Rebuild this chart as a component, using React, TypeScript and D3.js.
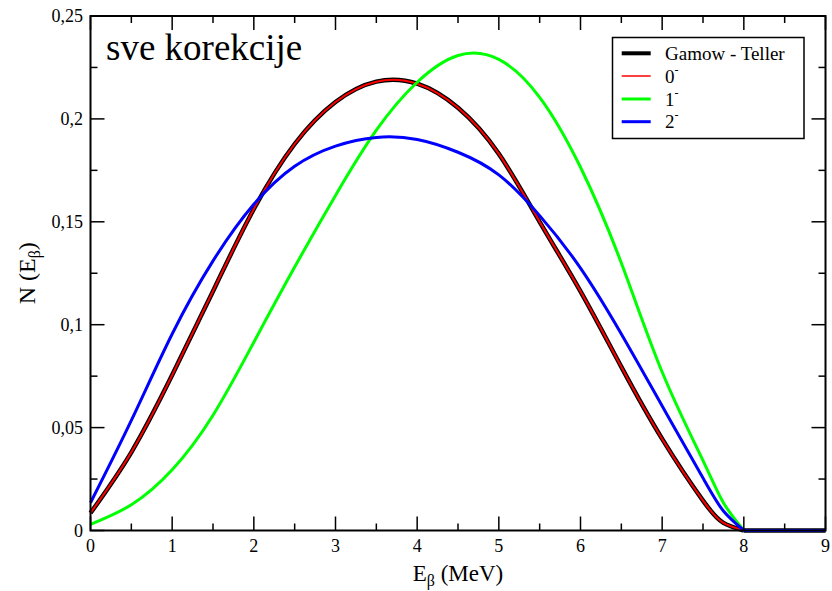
import React from "react";
import * as d3 from "d3";

// Beta spectrum N(E) for each transition type, read at these energies (MeV)
const energy = [0, 0.5, 1, 1.5, 2, 2.5, 3, 3.5, 4, 4.5, 5, 5.5, 6, 6.5, 7, 7.5, 7.75, 8, 8.5, 9];
const gamowTeller = [0.0085, 0.038, 0.0755, 0.1163, 0.1562, 0.1878, 0.2082, 0.2181, 0.2171, 0.2054, 0.183, 0.15, 0.1162, 0.0795, 0.0445, 0.0145, 0.0037, 0, 0, 0];
const firstForbidden0 = [0.0085, 0.038, 0.0755, 0.1163, 0.1562, 0.1878, 0.2082, 0.2181, 0.2171, 0.2054, 0.183, 0.15, 0.1162, 0.0795, 0.0445, 0.0145, 0.0037, 0, 0, 0];
const firstForbidden1 = [0.003, 0.0125, 0.0295, 0.056, 0.0915, 0.128, 0.1628, 0.1945, 0.2178, 0.2308, 0.2289, 0.2105, 0.1765, 0.13, 0.077, 0.034, 0.0135, 0, 0, 0];
const firstForbidden2 = [0.0135, 0.0535, 0.0955, 0.131, 0.1585, 0.177, 0.1868, 0.191, 0.19, 0.1838, 0.1728, 0.153, 0.1275, 0.0955, 0.0605, 0.0255, 0.0095, 0, 0, 0];

const endpoint = 8;

const xTicks = [0, 1, 2, 3, 4, 5, 6, 7, 8, 9];
const xMinorTicks = [0.5, 1.5, 2.5, 3.5, 4.5, 5.5, 6.5, 7.5, 8.5];
const yTicks = [0, 0.05, 0.1, 0.15, 0.2, 0.25];
const yTickLabels = ["0", "0,05", "0,1", "0,15", "0,2", "0,25"];
const yMinorTicks = [0.025, 0.075, 0.125, 0.175, 0.225];

const W = 832;
const H = 591;
const left = 90.5;
const right = 825.5;
const top = 16;
const bottom = 530.5;
const FONT = "'Liberation Serif', 'Times New Roman', Times, 'DejaVu Serif', serif";

export default function App() {
  const x = d3.scaleLinear().domain([0, 9]).range([left, right]);
  const y = d3.scaleLinear().domain([0, 0.25]).range([bottom, top]);

  type Pt = [number, number];
  const smooth = d3
    .line<Pt>()
    .x((d) => x(d[0]))
    .y((d) => y(d[1]))
    .curve(d3.curveNatural);
  const straight = d3
    .line<Pt>()
    .x((d) => x(d[0]))
    .y((d) => y(d[1]));

  // smooth spectrum up to the endpoint, then the flat zero tail
  const pathFor = (values: number[]) => {
    const pts: Pt[] = energy.map((e, i) => [e, values[i]]);
    const spectrum = pts.filter((p) => p[0] <= endpoint);
    const tail = pts.filter((p) => p[0] >= endpoint);
    return (smooth(spectrum) || "") + (straight(tail) || "");
  };

  const series = [
    { name: "Gamow - Teller", sup: "", values: gamowTeller, color: "#000000", width: 4.5, legendWidth: 4 },
    { name: "0", sup: "-", values: firstForbidden0, color: "#ff0000", width: 2, legendWidth: 1.5 },
    { name: "1", sup: "-", values: firstForbidden1, color: "#00ff00", width: 3, legendWidth: 3 },
    { name: "2", sup: "-", values: firstForbidden2, color: "#0000ff", width: 3, legendWidth: 3 },
  ];

  const majorLen = 14;
  const minorLen = 7;

  const legendX = 612.5;
  const legendY = 37.5;
  const legendW = 191.5;
  const legendH = 101;
  const rowYs = [53.3, 76, 99, 121.7];

  const textStyle = { fontFamily: FONT };

  return (
    <svg width={W} height={H} style={{ position: "absolute", left: 0, top: 0, background: "#fff" }}>
      <rect x={0} y={0} width={W} height={H} fill="#fff" />

      {/* data curves */}
      <g fill="none" strokeLinejoin="round" strokeLinecap="butt">
        {series.map((s) => (
          <path key={s.name} d={pathFor(s.values)} stroke={s.color} strokeWidth={s.width} />
        ))}
      </g>

      {/* ticks on all four sides, pointing inward */}
      <g stroke="#000" strokeWidth={1.5}>
        {xTicks.map((t) => (
          <g key={"xt" + t}>
            <line x1={x(t)} x2={x(t)} y1={bottom} y2={bottom - majorLen} />
            <line x1={x(t)} x2={x(t)} y1={top} y2={top + majorLen} />
          </g>
        ))}
        {xMinorTicks.map((t) => (
          <g key={"xm" + t}>
            <line x1={x(t)} x2={x(t)} y1={bottom} y2={bottom - minorLen} />
            <line x1={x(t)} x2={x(t)} y1={top} y2={top + minorLen} />
          </g>
        ))}
        {yTicks.map((t) => (
          <g key={"yt" + t}>
            <line x1={left} x2={left + majorLen} y1={y(t)} y2={y(t)} />
            <line x1={right} x2={right - majorLen} y1={y(t)} y2={y(t)} />
          </g>
        ))}
        {yMinorTicks.map((t) => (
          <g key={"ym" + t}>
            <line x1={left} x2={left + minorLen} y1={y(t)} y2={y(t)} />
            <line x1={right} x2={right - minorLen} y1={y(t)} y2={y(t)} />
          </g>
        ))}
      </g>

      {/* frame */}
      <rect x={left} y={top} width={right - left} height={bottom - top} fill="none" stroke="#000" strokeWidth={2} />

      {/* tick labels */}
      <g fontSize={18} fill="#000" style={textStyle}>
        {xTicks.map((t) => (
          <text key={"xl" + t} x={x(t)} y={552} textAnchor="middle" style={textStyle}>
            {t}
          </text>
        ))}
        {yTicks.map((t, i) => (
          <text key={"yl" + t} x={83} y={y(t) + 6} textAnchor="end" style={textStyle}>
            {yTickLabels[i]}
          </text>
        ))}
      </g>

      {/* axis titles */}
      <text x={(left + right) / 2} y={581} textAnchor="middle" fontSize={23} fill="#000" style={textStyle}>
        E
        <tspan fontSize={16} dy={5}>β</tspan>
        <tspan dy={-5}> (MeV)</tspan>
      </text>
      <text
        transform={`translate(35,${(top + bottom) / 2}) rotate(-90)`}
        textAnchor="middle"
        fontSize={24}
        fill="#000"
        style={textStyle}
      >
        N (E
        <tspan fontSize={16} dy={5}>β</tspan>
        <tspan dy={-5}>)</tspan>
      </text>

      {/* panel title */}
      <text x={106} y={60} fontSize={37} fill="#000" style={textStyle}>
        sve korekcije
      </text>

      {/* legend */}
      <rect x={legendX} y={legendY} width={legendW} height={legendH} fill="#fff" stroke="#000" strokeWidth={1.5} />
      {series.map((s, i) => (
        <g key={"lg" + s.name}>
          <line x1={621.7} x2={650.7} y1={rowYs[i]} y2={rowYs[i]} stroke={s.color} strokeWidth={s.legendWidth} />
          <text x={665} y={rowYs[i] + 6.5} fontSize={19} fill="#000" style={textStyle}>
            {s.name}
            {s.sup ? (
              <tspan fontSize={12} dy={-9}>
                {s.sup}
              </tspan>
            ) : null}
          </text>
        </g>
      ))}
    </svg>
  );
}
